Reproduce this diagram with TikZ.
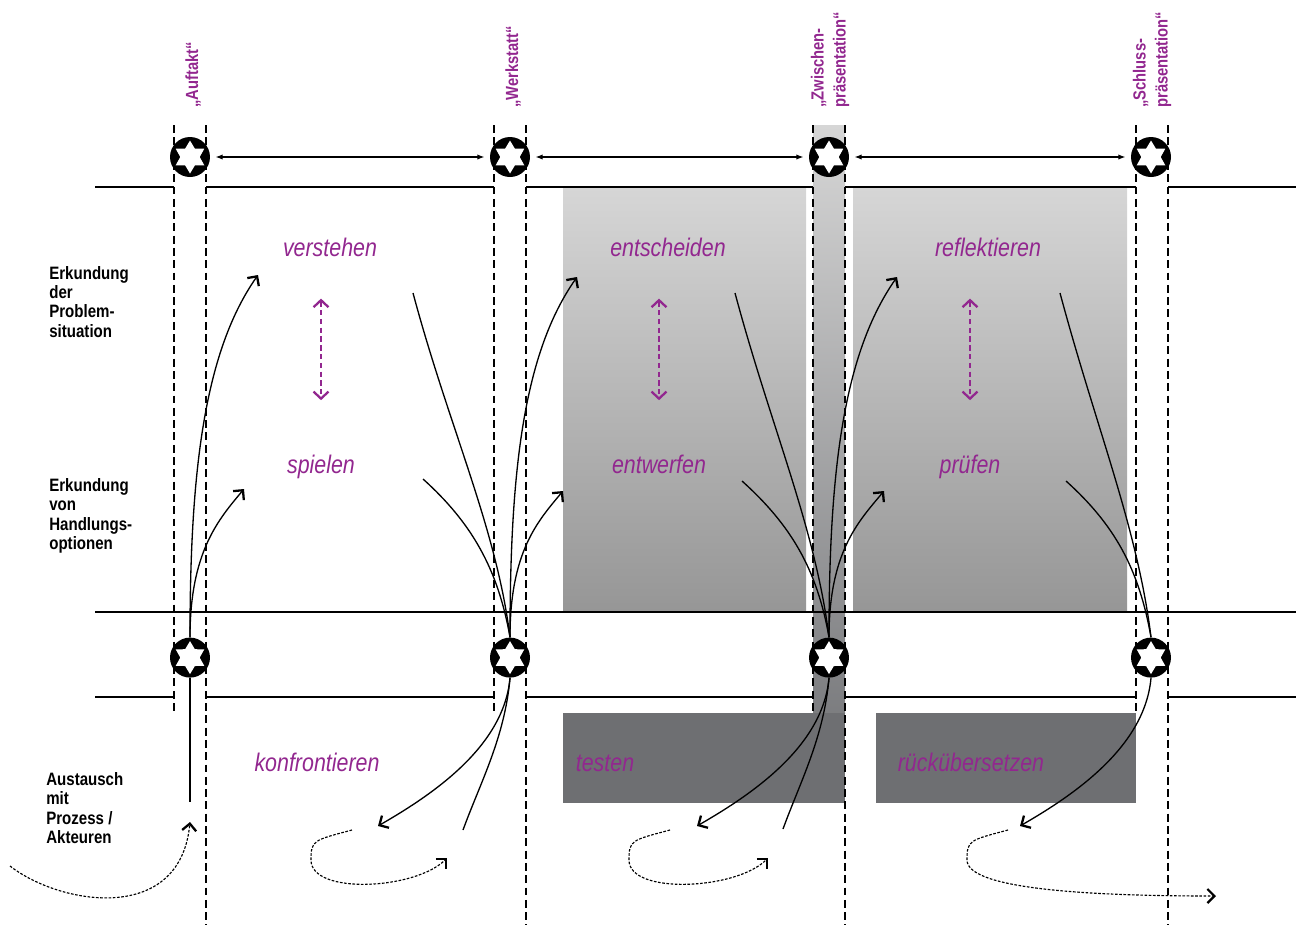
\documentclass[tikz,border=0pt]{standalone}
\usepackage{fontspec}
\setmainfont{Liberation Sans}[FakeStretch=0.84]
\usepackage{xcolor}
\usepackage{tikz}
\usetikzlibrary{arrows.meta, shapes.geometric, positioning}

\definecolor{violett}{RGB}{146,39,143}
\definecolor{hellgrau}{RGB}{214,214,214}
\definecolor{mittelgrau}{RGB}{150,150,150}
\definecolor{dunkelgrau}{RGB}{110,111,114}

\begin{document}
\begin{tikzpicture}[
        x=0.02cm, y=0.02cm,
        milestone/.style={circle, fill=black, inner sep=0pt, minimum size=0.8cm,
                path picture={\node[star, star points=6, star point ratio=1.7, fill=white, anchor=center,
                            inner sep=0pt, minimum size=0.66cm] at (path picture bounding box.center) {};}},
        milestone_label/.style={rotate=90, anchor=west, align=left, inner sep=0pt, text=violett,
                font=\bfseries\fontsize{10}{12.5}\selectfont},
        rowlabel/.style={anchor=north west, align=left, inner sep=0pt,
                font=\bfseries\fontsize{10.2}{11}\selectfont},
        activity/.style={anchor=base, inner sep=0pt, text=violett,
                font=\itshape\fontsize{14.5}{16}\selectfont},
        column_line/.style={line width=0.7pt, dash pattern=on 4.5pt off 2.5pt},
        link/.style={line width=0.75pt},
        link_arrow/.style={link, -{Straight Barb[length=4pt, width=8pt, line width=1.3pt]}},
        loop_arrow/.style={line width=0.65pt, dash pattern=on 1.5pt off 0.9pt,
                -{Straight Barb[length=4pt, width=8pt, line width=1.3pt]}},
        swap_arrow/.style={violett, line width=0.9pt, dash pattern=on 3pt off 2pt,
                {Straight Barb[length=4pt, width=8.5pt, line width=1.3pt]}-{Straight Barb[length=4pt, width=8.5pt, line width=1.3pt]},
                shorten <=0.84cm, shorten >=1.08cm},
        span_arrow/.style={line width=0.6pt, {Latex[length=4pt, width=3pt]}-{Latex[length=4pt, width=3pt]},
                shorten <=3pt, shorten >=3pt}
    ]
    \useasboundingbox (0,0) rectangle (1302,-934);

    % Gray phases
    \shade[top color=hellgrau, bottom color=mittelgrau] (563,-187) rectangle (806,-612);
    \shade[top color=hellgrau, bottom color=mittelgrau] (853,-187) rectangle (1127,-612);
    \shade[top color=hellgrau, bottom color=dunkelgrau!90] (813,-125) rectangle (845,-713);
    \fill[dunkelgrau] (563,-713) rectangle (845,-803);
    \fill[dunkelgrau] (876,-713) rectangle (1136,-803);

    % Rows
    \draw[link] (95,-187) -- (174,-187) (206,-187) -- (494,-187) (526,-187) -- (813,-187)
    (845,-187) -- (1136,-187) (1168,-187) -- (1296,-187);
    \draw[link] (95,-612) -- (1296,-612);
    \draw[link] (95,-697) -- (174,-697) (206,-697) -- (494,-697) (526,-697) -- (813,-697)
    (845,-697) -- (1136,-697) (1168,-697) -- (1296,-697);

    % Columns
    \draw[column_line] (174,-125) -- (174,-715) (494,-125) -- (494,-715)
    (813,-125) -- (813,-715) (1136,-125) -- (1136,-715);
    \draw[column_line] (206,-125) -- (206,-925) (526,-125) -- (526,-925)
    (845,-125) -- (845,-925) (1168,-125) -- (1168,-925);

    % Milestones
    \node[milestone] (auftakt_oben) at (190,-157) {};
    \node[milestone] (werkstatt_oben) at (510,-157) {};
    \node[milestone] (zwischen_oben) at (829,-157) {};
    \node[milestone] (schluss_oben) at (1151,-157) {};
    \node[milestone, below=9.2cm of auftakt_oben] (auftakt_unten) {};
    \node[milestone, below=9.2cm of werkstatt_oben] (werkstatt_unten) {};
    \node[milestone, below=9.2cm of zwischen_oben] (zwischen_unten) {};
    \node[milestone, below=9.2cm of schluss_oben] (schluss_unten) {};

    \node[milestone_label] (auftakt_titel) at (193,-108) {„Auftakt“};
    \node[milestone_label] (werkstatt_titel) at (513,-108) {„Werkstatt“};
    \node[milestone_label] (zwischen_titel) at (830,-108) {„Zwischen-\\präsentation“};
    \node[milestone_label] (schluss_titel) at (1152,-108) {„Schluss-\\präsentation“};

    \draw[span_arrow] (auftakt_oben) -- (werkstatt_oben);
    \draw[span_arrow] (werkstatt_oben) -- (zwischen_oben);
    \draw[span_arrow] (zwischen_oben) -- (schluss_oben);

    % Row labels
    \node[rowlabel] (problem) at (49,-266) {Erkundung\\der\\Problem-\\situation};
    \node[rowlabel] (optionen) at (49,-478) {Erkundung\\von\\Handlungs-\\optionen};
    \node[rowlabel] (austausch) at (46,-772) {Austausch\\mit\\Prozess /\\Akteuren};

    % Activities
    \node[activity] (verstehen) at (330,-256) {verstehen};
    \node[activity] (spielen) at (321,-473) {spielen};
    \node[activity] (konfrontieren) at (317,-771) {konfrontieren};
    \node[activity] (entscheiden) at (668,-256) {entscheiden};
    \node[activity] (entwerfen) at (659,-473) {entwerfen};
    \node[activity] (testen) at (605,-771) {testen};
    \node[activity] (reflektieren) at (988,-256) {reflektieren};
    \node[activity] (pruefen) at (970,-473) {prüfen};
    \node[activity] (rueckuebersetzen) at (971,-771) {rückübersetzen};

    \draw[swap_arrow] (spielen.north |- verstehen.south) -- (spielen.north);
    \draw[swap_arrow] (entwerfen.north |- entscheiden.south) -- (entwerfen.north);
    \draw[swap_arrow] (pruefen.north |- reflektieren.south) -- (pruefen.north);

    % Loose ends of the paths
    \coordinate (verstehen_in) at (258,-275);
    \coordinate (spielen_in) at (244,-489);
    \coordinate (verstehen_out) at (413,-293);
    \coordinate (spielen_out) at (423,-479);
    \coordinate (entscheiden_in) at (577,-277);
    \coordinate (entwerfen_in) at (563,-491);
    \coordinate (entscheiden_out) at (735,-293);
    \coordinate (entwerfen_out) at (742,-481);
    \coordinate (reflektieren_in) at (897,-277);
    \coordinate (pruefen_in) at (884,-491);
    \coordinate (reflektieren_out) at (1060,-293);
    \coordinate (pruefen_out) at (1066,-481);
    \coordinate (auftakt_ende) at (190,-802);
    \coordinate (feedback_start) at (10,-866);
    \coordinate (feedback_tip) at (190,-822);
    \coordinate (konfrontieren_in) at (378,-826);
    \coordinate (konfrontieren_out) at (463,-830);
    \coordinate (konfrontieren_loop) at (352,-830);
    \coordinate (konfrontieren_tip) at (447,-858);
    \coordinate (testen_in) at (697,-826);
    \coordinate (testen_out) at (783,-829);
    \coordinate (testen_loop) at (670,-830);
    \coordinate (testen_tip) at (768,-858);
    \coordinate (rueck_in) at (1020,-826);
    \coordinate (rueck_loop) at (1008,-830);
    \coordinate (rueck_tip) at (1216,-896);

    % Auftakt
    \draw[link_arrow] (auftakt_unten.north) .. controls +(90:170) and +(235:92) .. (verstehen_in);
    \draw[link_arrow] (auftakt_unten.north) .. controls +(90:85) and +(230:40) .. (spielen_in);
    \draw[link] (auftakt_unten.south) -- (auftakt_ende);
    \draw[loop_arrow] (feedback_start) .. controls (60,-905) and (180,-925) .. (feedback_tip);

    % Werkstatt
    \draw[link] (verstehen_out) .. controls +(-75:140) and +(97:110) .. (werkstatt_unten.north);
    \draw[link] (spielen_out) .. controls +(-42:65) and +(100:70) .. (werkstatt_unten.north);
    \draw[link_arrow] (werkstatt_unten.north) .. controls +(90:170) and +(235:92) .. (entscheiden_in);
    \draw[link_arrow] (werkstatt_unten.north) .. controls +(90:85) and +(230:40) .. (entwerfen_in);
    \draw[link_arrow] (werkstatt_unten.south) .. controls +(-95:70) and +(30:60) .. (konfrontieren_in);
    \draw[link] (werkstatt_unten.south) .. controls +(-95:60) and +(70:50) .. (konfrontieren_out);
    \draw[loop_arrow] (konfrontieren_loop) .. controls +(195:40) and +(90:20) .. (311,-860)
    .. controls +(-90:35) and +(225:45) .. (konfrontieren_tip);

    % Zwischenpraesentation
    \draw[link] (entscheiden_out) .. controls +(-75:140) and +(97:110) .. (zwischen_unten.north);
    \draw[link] (entwerfen_out) .. controls +(-42:65) and +(100:70) .. (zwischen_unten.north);
    \draw[link_arrow] (zwischen_unten.north) .. controls +(90:170) and +(235:92) .. (reflektieren_in);
    \draw[link_arrow] (zwischen_unten.north) .. controls +(90:85) and +(230:40) .. (pruefen_in);
    \draw[link_arrow] (zwischen_unten.south) .. controls +(-95:70) and +(30:60) .. (testen_in);
    \draw[link] (zwischen_unten.south) .. controls +(-95:60) and +(70:50) .. (testen_out);
    \draw[loop_arrow] (testen_loop) .. controls +(195:40) and +(90:20) .. (629,-860)
    .. controls +(-90:35) and +(225:45) .. (testen_tip);

    % Schlusspraesentation
    \draw[link] (reflektieren_out) .. controls +(-75:140) and +(97:110) .. (schluss_unten.north);
    \draw[link] (pruefen_out) .. controls +(-42:65) and +(100:70) .. (schluss_unten.north);
    \draw[link_arrow] (schluss_unten.south) .. controls +(-95:70) and +(30:60) .. (rueck_in);
    \draw[loop_arrow] (rueck_loop) .. controls +(195:40) and +(90:20) .. (967,-860)
    .. controls +(-90:30) and +(180:120) .. (rueck_tip);
\end{tikzpicture}
\end{document}
